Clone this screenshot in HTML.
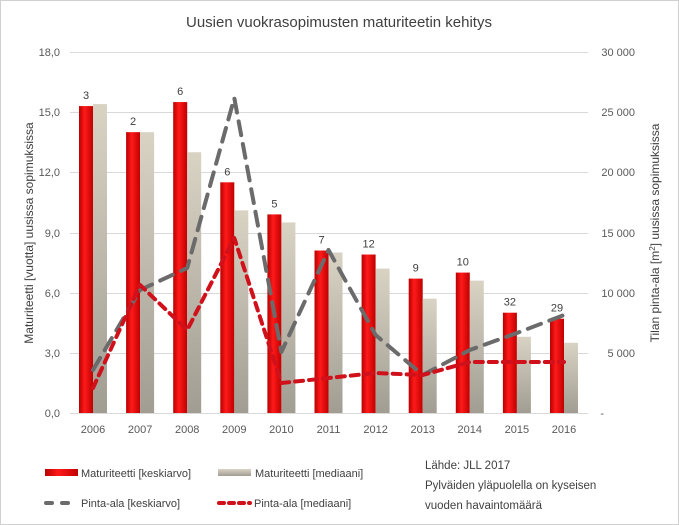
<!DOCTYPE html>
<html><head><meta charset="utf-8"><style>
body{margin:0;background:#fff}
svg{display:block;font-family:"Liberation Sans",sans-serif}
</style></head><body>
<svg width="679" height="525" viewBox="0 0 679 525">
<defs>
<linearGradient id="r" x1="0" x2="1"><stop offset="0" stop-color="#b80000"/><stop offset=".4" stop-color="#ff1a1a"/><stop offset="1" stop-color="#c00000"/></linearGradient>
<linearGradient id="b" x1="0" y1="0" x2="0" y2="1"><stop offset="0" stop-color="#d9d3c4"/><stop offset="1" stop-color="#a19d92"/></linearGradient>
</defs>
<rect x="0.5" y="0.5" width="678" height="524" fill="#fff" stroke="#d0d0d0"/>
<text x="339" y="27" text-anchor="middle" font-size="15" fill="#404040">Uusien vuokrasopimusten maturiteetin kehitys</text>
<g stroke="#d9d9d9" stroke-width="1">
<line x1="70" x2="588" y1="52.5" y2="52.5"/><line x1="70" x2="588" y1="112.5" y2="112.5"/><line x1="70" x2="588" y1="172.5" y2="172.5"/><line x1="70" x2="588" y1="233.5" y2="233.5"/><line x1="70" x2="588" y1="293.5" y2="293.5"/><line x1="70" x2="588" y1="353.5" y2="353.5"/><line x1="70" x2="588" y1="413.5" y2="413.5"/>
</g>
<g font-size="11" fill="#595959" text-anchor="end">
<text x="60" y="56">18,0</text><text x="60" y="116">15,0</text><text x="60" y="176">12,0</text><text x="60" y="237">9,0</text><text x="60" y="297">6,0</text><text x="60" y="357">3,0</text><text x="60" y="417">0,0</text>
</g>
<g font-size="11" fill="#595959" text-anchor="end">
<text x="635" y="56">30 000</text><text x="635" y="116">25 000</text><text x="635" y="176">20 000</text><text x="635" y="237">15 000</text><text x="635" y="297">10 000</text><text x="635" y="357">5 000</text><text x="604" y="417">-</text>
</g>
<text transform="translate(33,233) rotate(-90)" text-anchor="middle" font-size="12" fill="#404040">Maturiteetti  [vuotta] uusissa sopimuksissa</text>
<text transform="translate(659,233) rotate(-90)" text-anchor="middle" font-size="12" fill="#404040">Tilan pinta-ala [m<tspan dy="-4" font-size="8">2</tspan><tspan dy="4">] uusissa sopimuksissa</tspan></text>
<g id="bars"></g>
<g font-size="11" fill="#595959" text-anchor="middle" id="xl"></g>
<path id="gl" fill="none" stroke="#6b6b6b" stroke-width="4" stroke-dasharray="14,9" stroke-linecap="round" stroke-linejoin="round"/>
<path id="rl" fill="none" stroke="#d0111b" stroke-width="4" stroke-dasharray="8,6" stroke-linecap="round" stroke-linejoin="round"/>
<rect x="45" y="469" width="33" height="7" fill="url(#r)"/>
<text x="81" y="477" font-size="11" fill="#404040">Maturiteetti [keskiarvo]</text>
<rect x="218" y="469" width="33" height="7" fill="url(#b)"/>
<text x="255" y="477" font-size="11" fill="#404040">Maturiteetti [mediaani]</text>
<line x1="46" y1="503" x2="77" y2="503" stroke="#6b6b6b" stroke-width="4" stroke-dasharray="6,10" stroke-linecap="round"/>
<text x="81" y="507" font-size="11" fill="#404040">Pinta-ala [keskiarvo]</text>
<line x1="219" y1="503" x2="250" y2="503" stroke="#d0111b" stroke-width="4" stroke-dasharray="5,5" stroke-linecap="round"/>
<text x="254" y="507" font-size="11" fill="#404040">Pinta-ala [mediaani]</text>
<g font-size="11.5" fill="#404040"><text x="425" y="469">Lähde: JLL 2017</text><text x="425" y="489">Pylväiden yläpuolella on kyseisen</text><text x="425" y="509">vuoden havaintomäärä</text></g>
</svg>
<script>
var ns="http://www.w3.org/2000/svg",bars=document.getElementById('bars'),xl=document.getElementById('xl');
var R=[15.3,14.0,15.5,11.5,9.9,8.1,7.9,6.7,7.0,5.0,4.7],B=[15.4,14.0,13.0,10.1,9.5,8.0,7.2,5.7,6.6,3.8,3.5],N=[3,2,6,6,5,7,12,9,10,32,29];
function y(v){return 413-v*20.06}
function el(t,a,p){var e=document.createElementNS(ns,t);for(var k in a)e.setAttribute(k,a[k]);(p||bars).appendChild(e);return e}
for(var i=0;i<11;i++){var c=93+i*47.1;
el('rect',{x:c-14,y:y(R[i]),width:14,height:413-y(R[i]),fill:'url(#r)'});
el('rect',{x:c,y:y(B[i]),width:14,height:413-y(B[i]),fill:'url(#b)'});
var t=el('text',{x:c-7,y:y(R[i])-7,'font-size':11,fill:'#404040','text-anchor':'middle'});t.textContent=N[i];
var l=el('text',{x:c,y:433},xl);l.textContent=2006+i;}
function path(pts){return 'M'+pts.map(function(p){return p[0]+','+p[1]}).join(' L')}
var G=[370,290,268,98,352,250,335,375,350,333,315],Rd=[388,285,330,238,383,378,373,375,362,362,362];
document.getElementById('gl').setAttribute('d',path(G.map(function(v,i){return[93+i*47.1,v]})));
document.getElementById('rl').setAttribute('d',path(Rd.map(function(v,i){return[93+i*47.1,v]})));
</script>
</body></html>
